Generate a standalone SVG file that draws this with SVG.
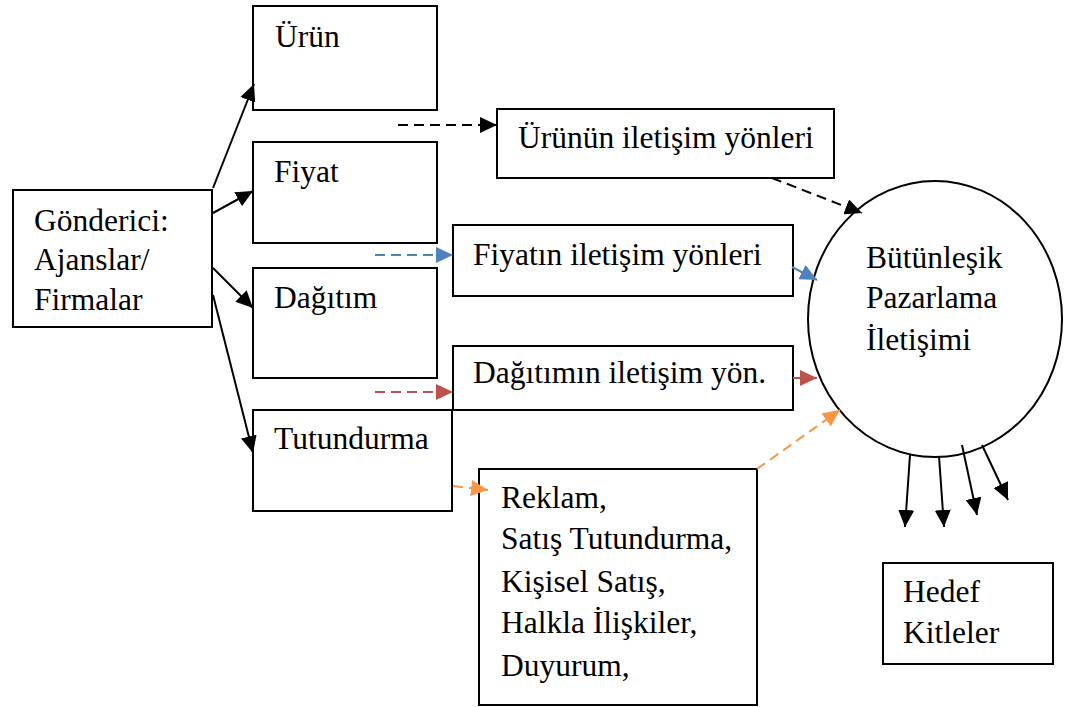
<svg xmlns="http://www.w3.org/2000/svg" width="1071" height="707" viewBox="0 0 1071 707">
<defs>
<style>
.box{fill:#fff;stroke:#000;stroke-width:2}
.t{font-family:'Liberation Serif','DejaVu Serif','Times New Roman',Times,serif;font-size:31.5px;fill:#000}
.ln{fill:none;stroke-width:2}
.dash{stroke-dasharray:10 6}
</style>
<marker id="ak" markerUnits="userSpaceOnUse" markerWidth="18" markerHeight="16" refX="17" refY="8" orient="auto"><path d="M0,0 L17,8 L0,16 z" fill="#000"/></marker>
<marker id="ab" markerUnits="userSpaceOnUse" markerWidth="18" markerHeight="16" refX="17" refY="8" orient="auto"><path d="M0,0 L17,8 L0,16 z" fill="#4F81BD"/></marker>
<marker id="ar" markerUnits="userSpaceOnUse" markerWidth="18" markerHeight="16" refX="17" refY="8" orient="auto"><path d="M0,0 L17,8 L0,16 z" fill="#C0504D"/></marker>
<marker id="ao" markerUnits="userSpaceOnUse" markerWidth="18" markerHeight="16" refX="17" refY="8" orient="auto"><path d="M0,0 L17,8 L0,16 z" fill="#F79646"/></marker>
</defs>
<rect width="1071" height="707" fill="#fff"/>

<g id="gonderici"><rect class="box" x="13" y="190" width="199" height="137"/>
<text class="t" x="34" y="231">Gönderici:</text><text class="t" x="34" y="270">Ajanslar/</text><text class="t" x="34" y="310">Firmalar</text></g>
<g id="urun"><rect class="box" x="253" y="6" width="184" height="104"/><text class="t" x="275" y="47">Ürün</text></g>
<g id="fiyat"><rect class="box" x="253" y="142" width="184" height="101"/><text class="t" x="274" y="182">Fiyat</text></g>
<g id="dagitim"><rect class="box" x="253" y="268" width="184" height="110"/><text class="t" x="274" y="308">Dağıtım</text></g>
<g id="tutundurma"><rect class="box" x="253" y="410" width="199" height="101"/><text class="t" x="274" y="449">Tutundurma</text></g>
<g id="urunun"><rect class="box" x="497" y="109" width="337" height="69"/><text class="t" x="518" y="148">Ürünün iletişim yönleri</text></g>
<g id="fiyatin"><rect class="box" x="453" y="225" width="340" height="71"/><text class="t" x="473" y="265">Fiyatın iletişim yönleri</text></g>
<g id="dagitimin"><rect class="box" x="453" y="346" width="340" height="64"/><text class="t" x="473" y="383">Dağıtımın iletişim yön.</text></g>
<g id="reklam"><rect class="box" x="479" y="469" width="278" height="236"/>
<text class="t" x="501" y="508">Reklam,</text><text class="t" x="501" y="549">Satış Tutundurma,</text><text class="t" x="501" y="592">Kişisel Satış,</text><text class="t" x="501" y="633">Halkla İlişkiler,</text><text class="t" x="501" y="676">Duyurum,</text></g>
<g id="butunlesik"><ellipse cx="935" cy="319" rx="127" ry="138" fill="#fff" stroke="#000" stroke-width="2"/>
<text class="t" x="866" y="268">Bütünleşik</text><text class="t" x="866" y="308">Pazarlama</text><text class="t" x="866" y="350">İletişimi</text></g>
<g id="hedef"><rect class="box" x="883" y="563" width="170" height="101"/><text class="t" x="903" y="602">Hedef</text><text class="t" x="903" y="643">Kitleler</text></g>

<g id="connectors">
<path class="ln" stroke="#000" d="M213,188 L254,84" marker-end="url(#ak)"/>
<path class="ln" stroke="#000" d="M213,213 L253,191" marker-end="url(#ak)"/>
<path class="ln" stroke="#000" d="M213,268 L253,308" marker-end="url(#ak)"/>
<path class="ln" stroke="#000" d="M213,295 L253,453" marker-end="url(#ak)"/>
<path class="ln dash" stroke="#000" d="M398,125 L497,125" marker-end="url(#ak)"/>
<path class="ln dash" stroke="#4F81BD" d="M375,255 L453,255" marker-end="url(#ab)"/>
<path class="ln dash" stroke="#C0504D" d="M375,392 L453,392" marker-end="url(#ar)"/>
<path class="ln dash" stroke="#F79646" d="M453,486 L488,490" marker-end="url(#ao)"/>
<path class="ln dash" stroke="#000" d="M772,178 L862,213" marker-end="url(#ak)"/>
<path class="ln" stroke="#4F81BD" d="M792,267 L817,280" marker-end="url(#ab)"/>
<path class="ln" stroke="#C0504D" d="M793,378 L817,378" marker-end="url(#ar)"/>
<path class="ln dash" stroke="#F79646" d="M757,469 L840,410" marker-end="url(#ao)"/>
<path class="ln" stroke="#000" d="M910,455 L905,527" marker-end="url(#ak)"/>
<path class="ln" stroke="#000" d="M939,456 L944,527" marker-end="url(#ak)"/>
<path class="ln" stroke="#000" d="M962,445 L977,515" marker-end="url(#ak)"/>
<path class="ln" stroke="#000" d="M982,445 L1008,500" marker-end="url(#ak)"/>
</g>
</svg>
